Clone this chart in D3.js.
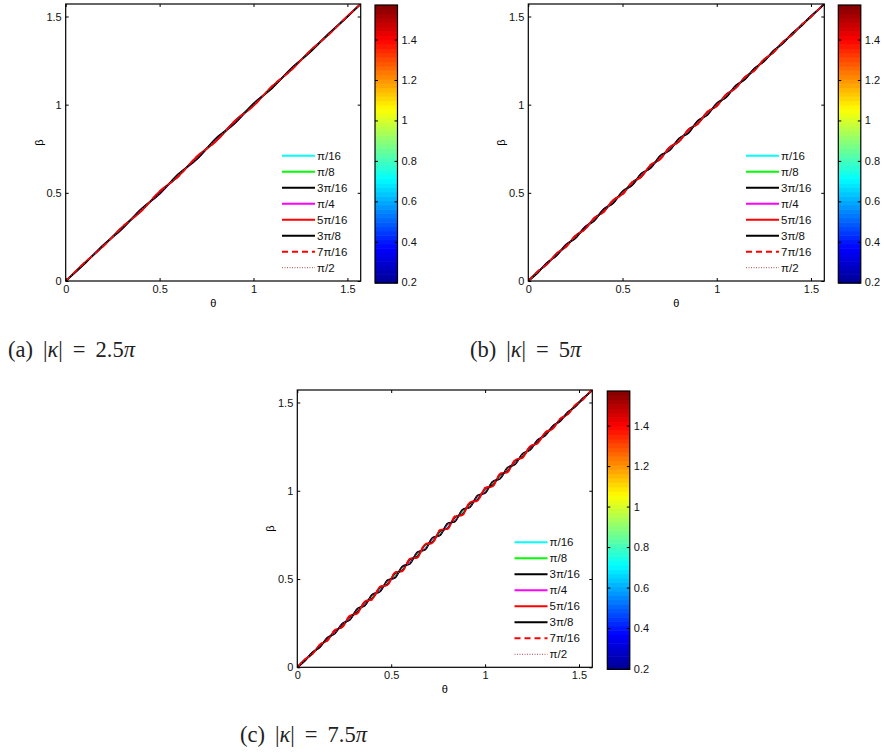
<!DOCTYPE html>
<html>
<head>
<meta charset="utf-8">
<script src="https://cdn.jsdelivr.net/npm/d3@7"></script>
<style>
  html, body { margin: 0; padding: 0; background: #fff; }
  svg { display: block; }
</style>
</head>
<body>
<div id="app"></div>
<script>
// series labels, colours and dashes (draw order = legend order)
const seriesLabels = ['π/16', 'π/8', '3π/16', 'π/4', '5π/16', '3π/8', '7π/16', 'π/2'];
const seriesColors = ['#00ffff', '#00ff00', '#000000', '#ff00ff', '#ff0000', '#000000', '#ff0000', '#b04a4a'];
const seriesDash = [null, null, null, null, null, null, '6,4', '1,1.5'];
const seriesWidth = [1.6, 1.6, 1.6, 1.6, 1.6, 1.6, 1.6, 1];

const axisTicks = [0, 0.5, 1, 1.5];
const colorbarTicks = [0.2, 0.4, 0.6, 0.8, 1, 1.2, 1.4];
const jetStops = [0, 0.125, 0.375, 0.625, 0.875, 1];
const jetColors = ['#00008f', '#0000ff', '#00ffff', '#ffff00', '#ff0000', '#800000'];

// θ samples for each panel
const thetaA = [0, 0.1, 0.2, 0.3, 0.4, 0.5, 0.6, 0.7, 0.8, 0.9, 1.0, 1.1, 1.2, 1.3, 1.4, 1.5, 1.5708];
const thetaB = [0, 0.05, 0.1, 0.15, 0.2, 0.25, 0.3, 0.35, 0.4, 0.45, 0.5, 0.55, 0.6, 0.65, 0.7, 0.75, 0.8,
  0.85, 0.9, 0.95, 1.0, 1.05, 1.1, 1.15, 1.2, 1.25, 1.3, 1.35, 1.4, 1.45, 1.5, 1.55, 1.5708];
const thetaC = [0, 0.04, 0.08, 0.12, 0.16, 0.2, 0.24, 0.28, 0.32, 0.36, 0.4, 0.44, 0.48, 0.52, 0.56, 0.6,
  0.64, 0.68, 0.72, 0.76, 0.8, 0.84, 0.88, 0.92, 0.96, 1.0, 1.04, 1.08, 1.12, 1.16, 1.2, 1.24, 1.28, 1.32,
  1.36, 1.4, 1.44, 1.48, 1.52, 1.56, 1.5708];

// β − θ for each series, in thousandths
const offsetsA = [
  [0, 1, -2, 3, -3, 2, -4, 5, -3, 2, 6, -2, 3, -2, 1, -1, 0],
  [0, -1, 2, -3, 4, -2, 3, -4, 2, -3, 4, -3, 2, -2, 1, 0, 0],
  [0, 2, -1, 4, -5, 3, -5, 6, -6, 7, -3, 4, -3, 3, -2, 1, 0],
  [0, -2, 3, -4, 5, -6, 4, -7, 5, -6, 5, -4, 3, -3, 2, -1, 0],
  [0, 3, -3, 5, -6, 8, -5, 7, -8, 6, -7, 5, -5, 4, -3, 2, 0],
  [0, -3, 4, -5, 7, -6, 7, -8, 9, -7, 6, -6, 5, -4, 3, -2, 0],
  [0, 4, -4, 6, -7, 9, -8, 9, -9, 8, -8, 7, -6, 5, -4, 2, 0],
  [0, -1, 2, -2, 3, -3, 3, -3, 3, -3, 2, -2, 2, -1, 1, 0, 0]
];
const offsetsB = [
  [0, 2, -3, 4, -2, 3, -5, 4, -3, 5, -4, 6, -5, 4, -6, 5, -4, 6, -5, 4, -5, 3, -4, 5, -3, 4, -3, 2, -3, 2, -1, 1, 0],
  [0, -2, 3, -3, 4, -4, 3, -5, 5, -4, 6, -5, 4, -6, 5, -5, 6, -4, 5, -5, 4, -4, 3, -4, 4, -3, 3, -2, 2, -2, 1, -1, 0],
  [0, 3, -4, 5, -5, 6, -6, 7, -7, 8, -6, 9, -8, 7, -9, 8, -10, 9, -8, 9, -7, 8, -7, 6, -6, 5, -5, 4, -4, 3, -2, 1, 0],
  [0, -3, 4, -5, 6, -5, 7, -6, 8, -7, 6, -8, 7, -8, 6, -7, 8, -7, 8, -6, 7, -6, 6, -5, 5, -4, 4, -3, 3, -2, 2, -1, 0],
  [0, 4, -5, 6, -7, 6, -8, 7, -8, 9, -7, 8, -9, 8, -7, 9, -8, 7, -9, 8, -8, 7, -7, 6, -6, 5, -5, 4, -3, 3, -2, 1, 0],
  [0, -4, 5, -6, 7, -8, 6, -9, 8, -10, 9, -8, 10, -9, 11, -10, 9, -11, 10, -9, 8, -9, 8, -7, 6, -6, 5, -4, 4, -3, 2, -1, 0],
  [0, 5, -5, 7, -6, 8, -9, 8, -10, 9, -11, 10, -9, 11, -10, 9, -11, 10, -9, 10, -9, 8, -8, 7, -7, 6, -5, 5, -4, 3, -2, 1, 0],
  [0, -1, 2, -2, 3, -3, 3, -4, 4, -3, 4, -4, 3, -4, 4, -3, 4, -3, 3, -3, 3, -2, 2, -2, 2, -2, 1, -1, 1, -1, 1, 0, 0]
];
const offsetsC = [
  [0, 2, -3, 3, -4, 5, -4, 6, -5, 6, -7, 6, -8, 7, -6, 8, -7, 9, -8, 7, -9, 8, -7, 9, -8, 7, -8, 6, -7, 6, -5, 6, -5, 4, -4, 3, -3, 2, -2, 1, 0],
  [0, -2, 3, -4, 4, -5, 6, -5, 7, -6, 7, -8, 7, -6, 8, -7, 8, -9, 8, -7, 9, -8, 8, -7, 8, -7, 6, -7, 6, -5, 6, -5, 4, -4, 4, -3, 2, -2, 1, -1, 0],
  [0, 3, -4, 6, -5, 7, -8, 9, -7, 10, -9, 11, -10, 12, -11, 10, -12, 13, -11, 12, -13, 11, -12, 10, -11, 12, -10, 11, -9, 10, -8, 9, -7, 8, -6, 5, -5, 4, -3, 2, 0],
  [0, -3, 4, -5, 7, -6, 8, -9, 10, -8, 11, -10, 9, -12, 11, -10, 12, -11, 10, -12, 11, -10, 12, -11, 10, -9, 11, -10, 9, -8, 9, -7, 8, -6, 6, -5, 4, -3, 3, -2, 0],
  [0, 4, -6, 8, -7, 10, -12, 11, -14, 13, -12, 15, -14, 16, -13, 15, -17, 16, -15, 17, -16, 14, -17, 15, -16, 14, -15, 16, -13, 14, -12, 13, -11, 10, -9, 8, -7, 6, -4, 3, 0],
  [0, -4, 5, -7, 8, -9, 8, -11, 12, -10, 13, -12, 14, -13, 12, -14, 13, -15, 14, -13, 15, -14, 13, -12, 14, -13, 12, -11, 12, -10, 11, -9, 8, -8, 7, -6, 5, -4, 3, -2, 0],
  [0, 5, -6, 9, -10, 12, -11, 14, -15, 13, -16, 17, -15, 18, -17, 16, -18, 19, -17, 18, -19, 17, -18, 16, -17, 18, -16, 17, -15, 16, -14, 13, -12, 11, -10, 9, -8, 6, -5, 3, 0],
  [0, -2, 3, -4, 5, -6, 5, -7, 8, -7, 9, -8, 10, -9, 8, -10, 9, -11, 10, -9, 11, -10, 9, -10, 11, -9, 10, -8, 9, -8, 7, -6, 6, -5, 4, -4, 3, -2, 2, -1, 0]
];

const captionLetters = ['(a)', '(b)', '(c)'];
const kappaValues = ['2.5', '5', '7.5'];

// layout of each panel (pixels)
const panels = [
  {theta: thetaA, offsets: offsetsA, left: 65.7, right: 360.7, top: 4, bottom: 281,
    cbLeft: 375, legendX: 282, legendY: 155.7, capX: 8, capY: 357},
  {theta: thetaB, offsets: offsetsB, left: 528.3, right: 824.3, top: 4, bottom: 281,
    cbLeft: 838.3, legendX: 746, legendY: 155.7, capX: 470, capY: 357},
  {theta: thetaC, offsets: offsetsC, left: 297.3, right: 592.3, top: 390, bottom: 667.3,
    cbLeft: 607.3, legendX: 514.5, legendY: 542.3, capX: 240, capY: 742}
];

const W = 884, H = 754;
const svg = d3.select('#app').append('svg').attr('width', W).attr('height', H);
const tickFont = 'Liberation Sans, Arial, Helvetica, sans-serif';
const jet = d3.scaleLinear().domain(jetStops).range(jetColors).interpolate(d3.interpolateRgb);
const cbDomain = [Math.PI / 16, Math.PI / 2];
const nBands = 64;

panels.forEach((p, pi) => {
	const g = svg.append('g');
	const x = d3.scaleLinear().domain([0, Math.PI / 2]).range([p.left, p.right]);
	const y = d3.scaleLinear().domain([0, Math.PI / 2]).range([p.bottom, p.top]);

	const clipId = 'clip' + pi;
	g.append('clipPath').attr('id', clipId)
		.append('rect')
		.attr('x', p.left).attr('y', p.top)
		.attr('width', p.right - p.left).attr('height', p.bottom - p.top);

	// data lines
	const line = d3.line()
		.x((d) => x(d[0]))
		.y((d) => y(d[1]))
		.curve(d3.curveCatmullRom);

	const lines = g.append('g').attr('clip-path', `url(#${clipId})`);
	p.offsets.forEach((off, si) => {
		const pts = p.theta.map((t, i) => [t, t + off[i] / 1000]);
		lines.append('path')
			.datum(pts)
			.attr('fill', 'none')
			.attr('stroke', seriesColors[si])
			.attr('stroke-width', seriesWidth[si])
			.attr('stroke-dasharray', seriesDash[si])
			.attr('stroke-linejoin', 'round')
			.attr('d', line);
	});

	// axes, MATLAB style: inward ticks on all four sides
	const tl = 3;
	g.append('g')
		.attr('transform', `translate(0,${p.bottom})`)
		.call(d3.axisBottom(x).tickValues(axisTicks).tickSize(-tl).tickPadding(4).tickFormat(d3.format('')));
	g.append('g')
		.attr('transform', `translate(0,${p.top})`)
		.call(d3.axisTop(x).tickValues(axisTicks).tickSize(-tl).tickFormat(''));
	g.append('g')
		.attr('transform', `translate(${p.left},0)`)
		.call(d3.axisLeft(y).tickValues(axisTicks).tickSize(-tl).tickPadding(4).tickFormat(d3.format('')));
	g.append('g')
		.attr('transform', `translate(${p.right},0)`)
		.call(d3.axisRight(y).tickValues(axisTicks).tickSize(-tl).tickFormat(''));
	g.selectAll('.domain').remove();
	g.selectAll('.tick line').attr('stroke', '#000').attr('stroke-width', 1);
	g.selectAll('.tick text').attr('font-family', tickFont).attr('font-size', 11).attr('fill', '#111');

	g.append('rect')
		.attr('x', p.left).attr('y', p.top)
		.attr('width', p.right - p.left).attr('height', p.bottom - p.top)
		.attr('fill', 'none').attr('stroke', '#000').attr('stroke-width', 1.2);

	// axis labels
	g.append('text')
		.attr('x', (p.left + p.right) / 2).attr('y', p.bottom + 26)
		.attr('text-anchor', 'middle')
		.attr('font-family', tickFont).attr('font-size', 11)
		.text('θ');
	g.append('text')
		.attr('transform', `translate(${p.left - 23},${(p.top + p.bottom) / 2}) rotate(-90)`)
		.attr('text-anchor', 'middle')
		.attr('font-family', tickFont).attr('font-size', 11)
		.text('β');

	// legend (no box)
	const legend = g.append('g');
	seriesLabels.forEach((lab, si) => {
		const ly = p.legendY + si * 16;
		legend.append('line')
			.attr('x1', p.legendX).attr('x2', p.legendX + 33)
			.attr('y1', ly).attr('y2', ly)
			.attr('stroke', seriesColors[si])
			.attr('stroke-width', si === 7 ? 1 : 2)
			.attr('stroke-dasharray', seriesDash[si]);
		legend.append('text')
			.attr('x', p.legendX + 35).attr('y', ly)
			.attr('dominant-baseline', 'central')
			.attr('font-family', tickFont).attr('font-size', 11.5)
			.attr('fill', '#111')
			.text(lab);
	});

	// colorbar
	const cbTop = p.top + 1, cbBottom = p.bottom + 2, cbW = 22.5;
	const cy = d3.scaleLinear().domain(cbDomain).range([cbBottom, cbTop]);
	const bands = d3.range(nBands);
	const bandH = (cbBottom - cbTop) / nBands;
	g.append('g').selectAll('rect')
		.data(bands)
		.enter()
		.append('rect')
		.attr('x', p.cbLeft)
		.attr('y', (d) => cbBottom - (d + 1) * bandH)
		.attr('width', cbW)
		.attr('height', bandH + 0.6)
		.attr('fill', (d) => jet((d + 0.5) / nBands));
	g.append('g')
		.attr('transform', `translate(${p.cbLeft + cbW},0)`)
		.call(d3.axisRight(cy).tickValues(colorbarTicks).tickSize(-tl).tickPadding(4).tickFormat(d3.format('')))
		.call((a) => a.select('.domain').remove());
	g.append('g')
		.attr('transform', `translate(${p.cbLeft},0)`)
		.call(d3.axisLeft(cy).tickValues(colorbarTicks).tickSize(-tl).tickFormat(''))
		.call((a) => a.select('.domain').remove());
	g.selectAll('.tick line').attr('stroke', '#000');
	g.selectAll('.tick text').attr('font-family', tickFont).attr('font-size', 11).attr('fill', '#111');
	g.append('rect')
		.attr('x', p.cbLeft).attr('y', cbTop)
		.attr('width', cbW).attr('height', cbBottom - cbTop)
		.attr('fill', 'none').attr('stroke', '#000').attr('stroke-width', 1.2);

	// caption
	const cap = g.append('text')
		.attr('x', p.capX).attr('y', p.capY)
		.attr('font-family', 'Liberation Serif, DejaVu Serif, serif')
		.attr('font-size', 22.5)
		.attr('fill', '#222');
	cap.append('tspan').text(captionLetters[pi]);
	cap.append('tspan').attr('dx', 10).text('|');
	cap.append('tspan').attr('font-style', 'italic').text('κ');
	cap.append('tspan').text('|');
	cap.append('tspan').attr('dx', 10).text('=');
	cap.append('tspan').attr('dx', 10).text(kappaValues[pi]);
	cap.append('tspan').attr('font-style', 'italic').text('π');
});
</script>
</body>
</html>
